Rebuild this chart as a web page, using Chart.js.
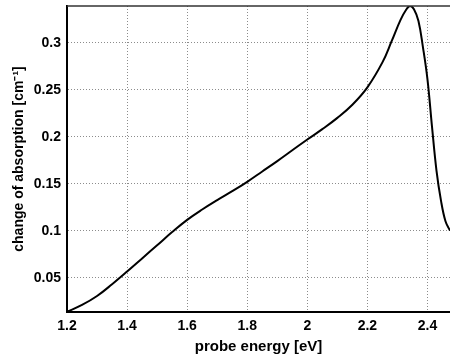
<!DOCTYPE html>
<html>
<head>
<meta charset="utf-8">
<script src="https://cdn.jsdelivr.net/npm/chart.js@4/dist/chart.umd.min.js"></script>
<style>
  html, body { margin: 0; padding: 0; background: #fff; }
  #wrap { width: 450px; height: 360px; }
</style>
</head>
<body>
<div id="wrap"><canvas id="c" width="450" height="360"></canvas></div>
<script>
// probe energy [eV] and change of absorption [cm^-1]
const energy = [1.2, 1.25, 1.3, 1.35, 1.4, 1.45, 1.5, 1.55, 1.6, 1.65, 1.7, 1.75, 1.8, 1.85,
    1.9, 1.95, 2.0, 2.05, 2.1, 2.15, 2.2, 2.25, 2.28, 2.31, 2.33, 2.342, 2.355, 2.37, 2.385,
    2.4, 2.415, 2.43, 2.445, 2.46, 2.475];
const absorption = [0.0138, 0.021, 0.0305, 0.043, 0.0565, 0.0705, 0.0845, 0.0985, 0.1115,
    0.1225, 0.1325, 0.142, 0.152, 0.163, 0.174, 0.1855, 0.197, 0.208, 0.22, 0.234, 0.2525,
    0.279, 0.301, 0.324, 0.3355, 0.339, 0.3355, 0.323, 0.295, 0.261, 0.211, 0.164, 0.132,
    0.11, 0.1];
const xTicks = [1.2, 1.4, 1.6, 1.8, 2.0, 2.2, 2.4];
const yTicks = [0.05, 0.1, 0.15, 0.2, 0.25, 0.3];

const fontFamily = '"Liberation Sans", Arial, sans-serif';

const topBorder = {
    id: 'topBorder',
    afterDraw(chart) {
        const {ctx, chartArea} = chart;
        ctx.save();
        ctx.strokeStyle = '#333';
        ctx.lineWidth = 1.5;
        ctx.beginPath();
        ctx.moveTo(chartArea.left, chartArea.top);
        ctx.lineTo(chartArea.right, chartArea.top);
        ctx.stroke();
        ctx.restore();
    }
};

const gridStyle = {
    color: 'rgba(0,0,0,0.45)',
    lineWidth: 1,
    drawTicks: false
};

new Chart(document.getElementById('c').getContext('2d'), {
    type: 'line',
    data: {
        datasets: [{
            data: energy.map((x, i) => ({x, y: absorption[i]})),
            borderColor: '#000',
            borderWidth: 2,
            pointRadius: 0,
            tension: 0.4,
            fill: false
        }]
    },
    options: {
        responsive: false,
        animation: false,
        layout: {padding: {top: 6, right: 0, left: 0, bottom: 0}},
        plugins: {legend: {display: false}, tooltip: {enabled: false}},
        scales: {
            x: {
                type: 'linear',
                min: 1.2,
                max: 2.475,
                afterFit: (s) => {
                    s.height = 48;
                    s.paddingLeft = 0;
                    s.paddingRight = 0;
                },
                afterBuildTicks: (s) => { s.ticks = xTicks.map(v => ({value: v})); },
                grid: {...gridStyle},
                border: {color: '#000', width: 2, dash: [1, 2]},
                ticks: {
                    color: '#000',
                    padding: 6,
                    maxRotation: 0,
                    font: {family: fontFamily, size: 14, weight: 'bold'},
                    callback: (v) => String(+v.toFixed(2))
                },
                title: {
                    display: true,
                    text: 'probe energy [eV]',
                    color: '#000',
                    padding: {top: 0, bottom: 4},
                    font: {family: fontFamily, size: 15, weight: 'bold'}
                }
            },
            y: {
                min: 0.0135,
                max: 0.339,
                afterFit: (s) => {
                    s.width = 67;
                    s.paddingTop = 0;
                    s.paddingBottom = 0;
                },
                afterBuildTicks: (s) => { s.ticks = yTicks.map(v => ({value: v})); },
                grid: {...gridStyle},
                border: {color: '#000', width: 2, dash: [1, 2]},
                ticks: {
                    color: '#000',
                    padding: 6,
                    font: {family: fontFamily, size: 14, weight: 'bold'},
                    callback: (v) => String(+v.toFixed(2))
                },
                title: {
                    display: true,
                    text: 'change of absorption [cm⁻¹]',
                    color: '#000',
                    padding: {top: 11, bottom: 0},
                    font: {family: fontFamily, size: 14, weight: 'bold'}
                }
            }
        }
    },
    plugins: [topBorder]
});
</script>
</body>
</html>
